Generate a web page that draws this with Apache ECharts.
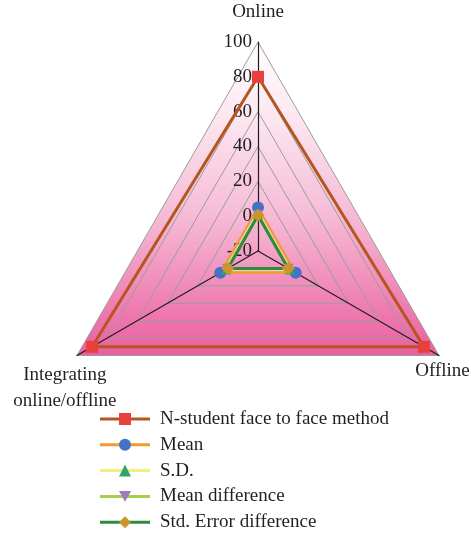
<!DOCTYPE html>
<html>
<head>
<meta charset="utf-8">
<script src="https://cdn.jsdelivr.net/npm/echarts@6/dist/echarts.min.js"></script>
<style>
  html, body { margin: 0; padding: 0; background: #ffffff; }
  #chart { width: 471px; height: 537px; }
</style>
</head>
<body>
<div id="chart"></div>
<script>
// Radar axes, in drawing order (counter-clockwise from the top)
const indicatorNames = ['Online', 'Integrating\nonline/offline', 'Offline'];
const axisMin = -20;
const axisMax = 100;
const tickStep = 20;

// Series names and their values on [Online, Integrating online/offline, Offline]
const seriesNames = [
  'N-student face to face method',
  'Mean',
  'S.D.',
  'Mean difference',
  'Std. Error difference'
];
const faceToFace = [80, 90, 90];
const meanValues = [5, 5, 5];
const sdValues = [1.2, 1.2, 1.2];
const meanDiffValues = [0.6, 0.4, 0.4];
const stdErrDiffValues = [0.5, 0, 0];

// Styling per series
const lineColors = ['#b3561f', '#f39a2e', '#f4ef7c', '#a6cf4f', '#2f8a3d'];
const lineWidths = [3, 2, 3, 3, 3];
const markerColors = ['#e8403f', '#4472c4', '#33a36b', '#9d7cbc', '#c9962b'];
const invTriangle = 'path://M0,0L10,0L5,9Z';
const markerShapes = ['rect', 'circle', 'triangle', invTriangle, 'diamond'];
const markerSizes = [12, 12, 10, 10, 13];
const allValues = [faceToFace, meanValues, sdValues, meanDiffValues, stdErrDiffValues];

const serif = '"Liberation Serif", "DejaVu Serif", serif';
const textColor = '#231f20';

const cx = 258, cy = 251, R = 209;

const chart = echarts.init(document.getElementById('chart'), null, { renderer: 'canvas' });

const backgroundFill = {
  type: 'linear', global: true,
  x: 0, y: cy - R, x2: 0, y2: cy + R / 2,
  colorStops: [
    { offset: 0, color: '#ffffff' },
    { offset: 0.25, color: '#fce6f0' },
    { offset: 0.55, color: '#f6bcd6' },
    { offset: 0.85, color: '#ee7cb0' },
    { offset: 1, color: '#e95f9f' }
  ]
};

const nameLayouts = [
  { nameGap: 20 },
  { nameGap: 14, nameTextStyle: { align: 'center', verticalAlign: 'top', lineHeight: 26 } },
  { nameGap: 4, nameTextStyle: { align: 'center', verticalAlign: 'top', lineHeight: 28 } }
];

const legendText = { fontFamily: serif, fontSize: 19, color: textColor, lineHeight: 20 };
const legendTop = 409;
const legendGap = 5.8;

const option = {
  backgroundColor: '#ffffff',
  animation: false,
  legend: [
    {
      orient: 'vertical',
      left: 100,
      top: legendTop,
      padding: 0,
      itemWidth: 50,
      itemHeight: 3,
      itemGap: legendGap,
      icon: 'rect',
      selectedMode: false,
      itemStyle: { borderWidth: 0 },
      textStyle: Object.assign({ padding: [0, 0, 0, 5] }, legendText),
      data: seriesNames.map((n, i) => ({ name: n, itemStyle: { color: lineColors[i], borderWidth: 0 } }))
    },
    {
      orient: 'vertical',
      left: 119,
      top: legendTop,
      padding: 0,
      z: 5,
      itemWidth: 12,
      itemHeight: 12,
      itemGap: legendGap,
      selectedMode: false,
      formatter: () => ' ',
      itemStyle: { borderWidth: 0 },
      textStyle: legendText,
      data: seriesNames.map((n, i) => ({ name: n, icon: markerShapes[i], itemStyle: { color: markerColors[i], borderWidth: 0 } }))
    }
  ],
  radar: {
    center: [cx, cy],
    radius: R,
    startAngle: 90,
    shape: 'polygon',
    splitNumber: (axisMax - axisMin) / tickStep,
    indicator: indicatorNames.map((name, i) => Object.assign({
      name: name,
      min: axisMin,
      max: axisMax,
      axisLabel: { show: i === 0 }
    }, nameLayouts[i])),
    axisName: { color: textColor, fontFamily: serif, fontSize: 19 },
    axisLine: { lineStyle: { color: '#1e1e1e', width: 1.2 } },
    axisTick: { show: false },
    axisLabel: {
      show: false,
      color: textColor,
      fontFamily: serif,
      fontSize: 19,
      margin: 6
    },
    splitLine: { lineStyle: { color: '#9c9c9c', width: 1 } },
    splitArea: { show: true, areaStyle: { color: backgroundFill } }
  },
  series: [{
    type: 'radar',
    symbolSize: 12,
    data: seriesNames.map((n, i) => ({
      name: n,
      value: allValues[i],
      symbol: markerShapes[i],
      symbolSize: markerSizes[i],
      itemStyle: { color: markerColors[i], borderWidth: 0 },
      lineStyle: { color: lineColors[i], width: lineWidths[i] }
    }))
  }]
};

chart.setOption(option);
</script>
</body>
</html>
